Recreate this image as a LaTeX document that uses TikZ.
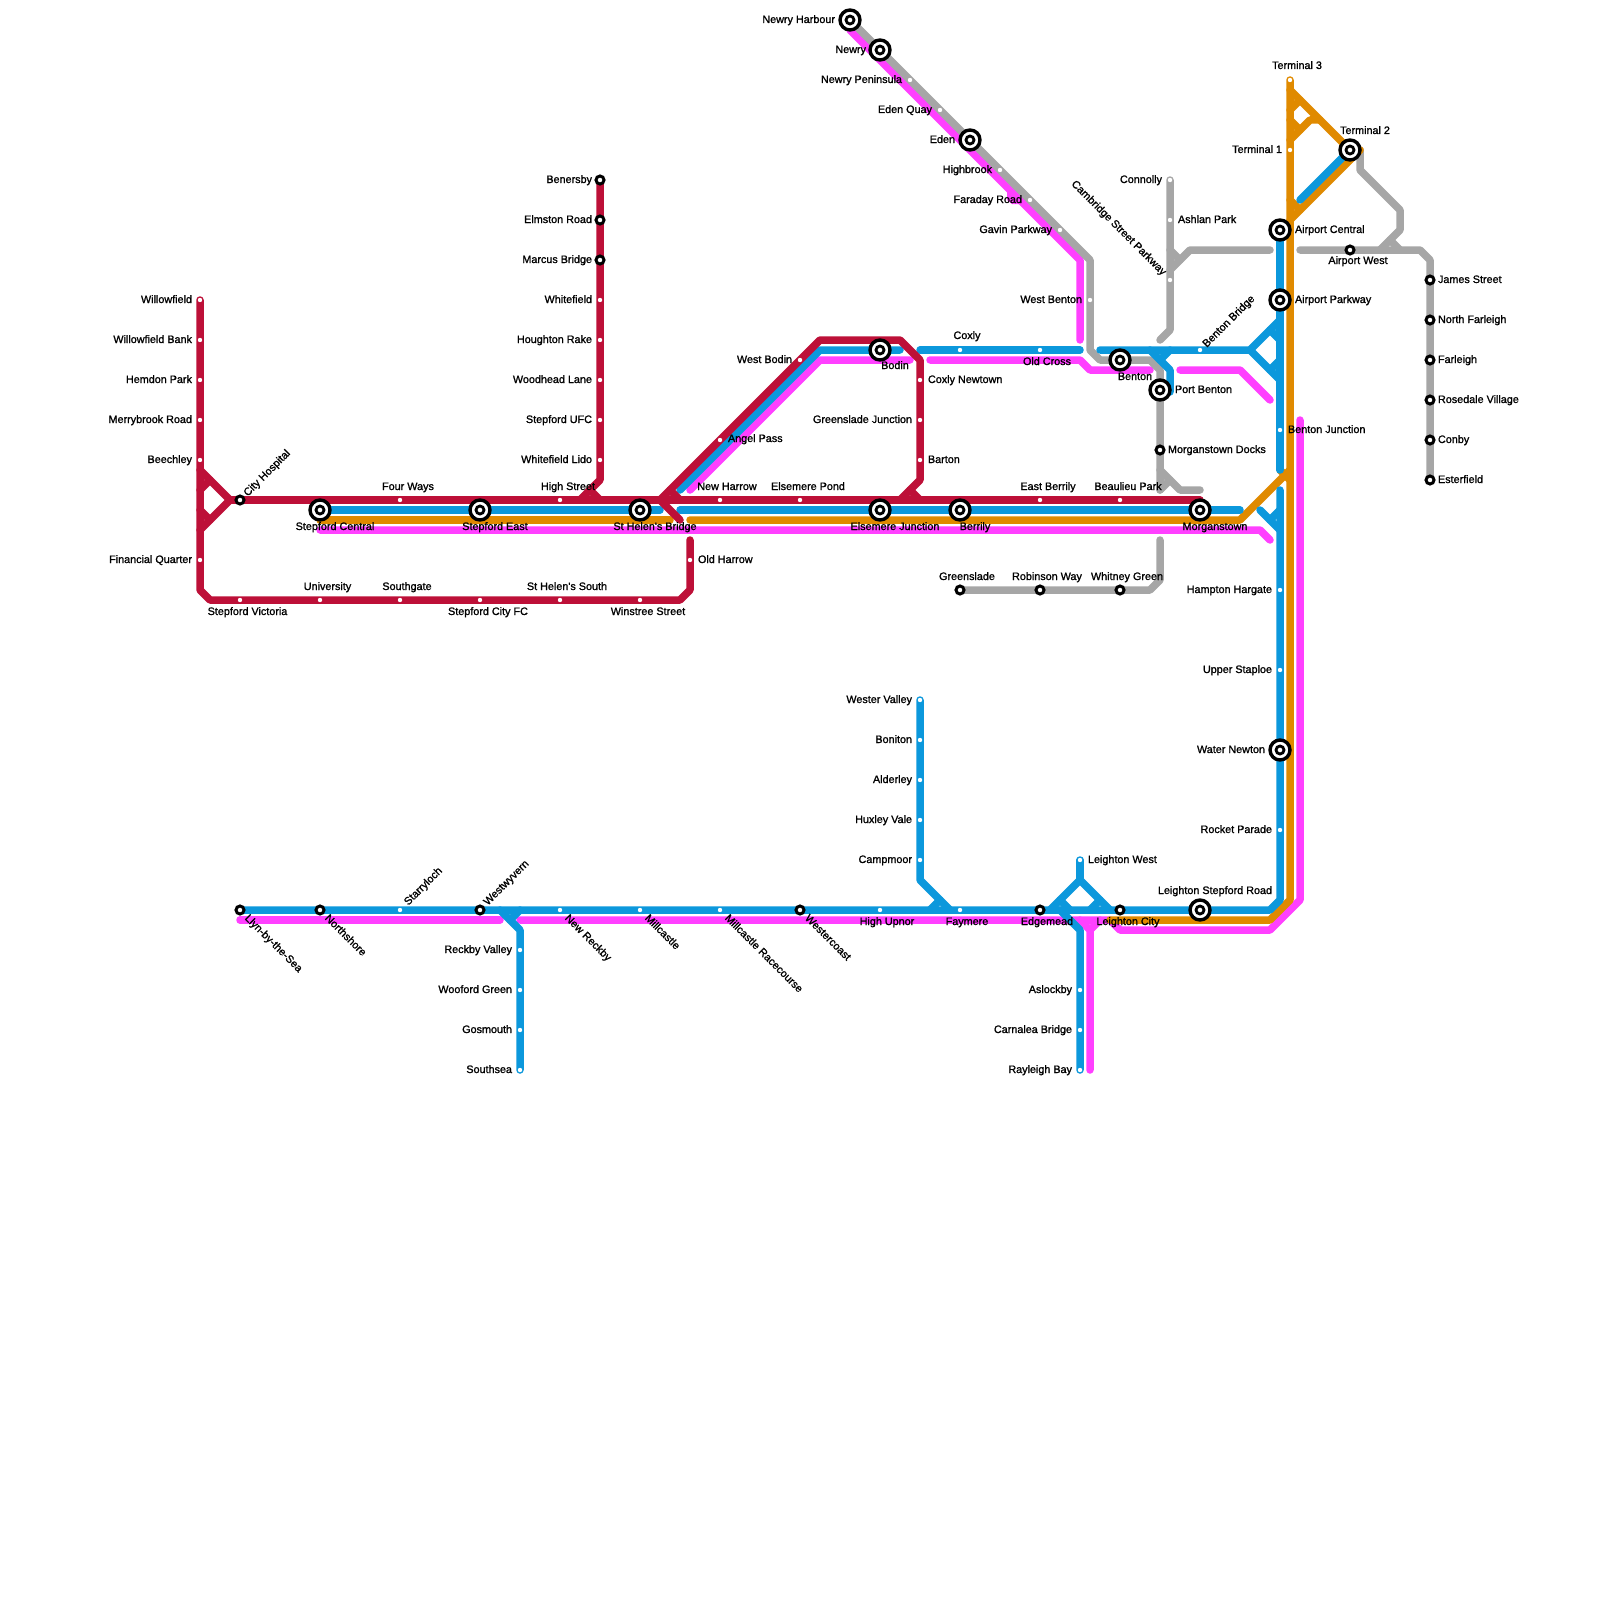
\documentclass[tikz,border=0pt]{standalone}
\usepackage{fontspec}
\newfontfamily\lblfont[RawFeature={embolden=1.2}]{Liberation Sans}
\definecolor{cred}{HTML}{BD1038}
\definecolor{cblue}{HTML}{0C98DC}
\definecolor{corange}{HTML}{E08A00}
\definecolor{cpink}{HTML}{FF40FF}
\definecolor{cgrey}{HTML}{A6A6A6}
\tikzset{
  lred/.style={draw=cred,line width=7.5pt,line cap=round,line join=round},
  lblue/.style={draw=cblue,line width=7.5pt,line cap=round,line join=round},
  lorange/.style={draw=corange,line width=7.5pt,line cap=round,line join=round},
  lpink/.style={draw=cpink,line width=7.5pt,line cap=round,line join=round},
  lgrey/.style={draw=cgrey,line width=7.5pt,line cap=round,line join=round},
  ringst/.style={circle,draw=black,fill=white,line width=2.8pt,minimum size=8pt,inner sep=0pt,outer sep=0pt},
  bigst/.style={circle,draw=black,fill=white,line width=3.4pt,minimum size=20pt,inner sep=0pt,outer sep=0pt,label={[ringst,label distance=0pt]center:{}}},
  smst/.style={circle,draw=black,fill=white,line width=3pt,minimum size=8pt,inner sep=0pt,outer sep=0pt},
  dotst/.style={circle,fill=white,minimum size=4.4pt,inner sep=0pt,outer sep=0pt},
  lab/.style={inner sep=0pt,outer sep=0pt,text height=6pt,text depth=0pt,font=\lblfont\fontsize{10.8}{12}\selectfont,text=black},
}
\newcommand\stn[6]{\node[#1] (#2) at (#3) {}; \node[lab,#5] (#2-t) at (#4) {#6};}
\begin{document}
\begin{tikzpicture}[x=1pt,y=-1pt]
\useasboundingbox (0,0) rectangle (1600,1600);
% ---------- way points
\coordinate (rA) at (200,300); \coordinate (rB) at (200,590); \coordinate (rC) at (210,600); \coordinate (rD) at (680,600); \coordinate (rE) at (690,590); \coordinate (rF) at (690,540);
\coordinate (rG) at (200,470); \coordinate (rH) at (230,500); \coordinate (rI) at (200,530); \coordinate (rJ) at (200,490); \coordinate (rK) at (210,480); \coordinate (rL) at (200,510); \coordinate (rM) at (210,520);
\coordinate (rN) at (1200,500);
\coordinate (rO) at (600,180); \coordinate (rP) at (600,480); \coordinate (rQ) at (580,500); \coordinate (rR) at (590,490); \coordinate (rS) at (600,500);
\coordinate (rT) at (680,520); \coordinate (rU) at (660,500); \coordinate (rV) at (820,340); \coordinate (rW) at (900,340); \coordinate (rX) at (920,360); \coordinate (rY) at (920,480); \coordinate (rZ) at (900,500);
\coordinate (ra) at (670,490); \coordinate (rb) at (680,500); \coordinate (rc) at (910,490); \coordinate (rd) at (920,500);
% blue
\coordinate (bA) at (320,510); \coordinate (bB) at (660,510); \coordinate (bC) at (680,510); \coordinate (bD) at (1240,510);
\coordinate (bE) at (680,490); \coordinate (bF) at (820,350); \coordinate (bG) at (900,350); \coordinate (bH) at (920,350); \coordinate (bI) at (1080,350);
\coordinate (bJ) at (1100,350); \coordinate (bK) at (1250,350); \coordinate (bL) at (1280,320); \coordinate (bM) at (1280,380);
\coordinate (bN) at (1150,350); \coordinate (bO) at (1170,370); \coordinate (bP) at (1170,392); \coordinate (bQ) at (1160,360); \coordinate (bR) at (1170,350);
\coordinate (bS) at (1280,230); \coordinate (bT) at (1280,470); \coordinate (bU) at (1280,490); \coordinate (bV) at (1280,900); \coordinate (bW) at (1270,910); \coordinate (bX) at (240,910);
\coordinate (bY) at (1260,510); \coordinate (bZ) at (1280,530); \coordinate (ba) at (1270,520); \coordinate (bb) at (1280,510);
\coordinate (bc) at (1300,200); \coordinate (bd) at (1350,150);
\coordinate (be) at (920,700); \coordinate (bf) at (920,880); \coordinate (bg) at (950,910); \coordinate (bh) at (930,910); \coordinate (bi) at (940,900);
\coordinate (bj) at (500,910); \coordinate (bk) at (520,930); \coordinate (bl) at (520,1070); \coordinate (bm) at (510,920); \coordinate (bn) at (520,910);
\coordinate (bo) at (1050,910); \coordinate (bp) at (1080,880); \coordinate (bq) at (1110,910); \coordinate (br) at (1080,860);
\coordinate (bs) at (1060,910); \coordinate (bt) at (1080,930); \coordinate (bu) at (1080,1070); \coordinate (bv) at (1060,900); \coordinate (bw) at (1070,910); \coordinate (bx) at (1090,910); \coordinate (by) at (1100,900);
\coordinate (dA) at (1270,330); \coordinate (dB) at (1280,340); \coordinate (dC) at (1270,370); \coordinate (dD) at (1280,360);
% orange
\coordinate (oA) at (320,520); \coordinate (oB) at (670,520); \coordinate (oC) at (690,520); \coordinate (oD) at (1240,520); \coordinate (oE) at (1290,470);
\coordinate (oF) at (1280,470); \coordinate (oG) at (1290,480);
\coordinate (oH) at (1290,80); \coordinate (oI) at (1290,900); \coordinate (oJ) at (1270,920); \coordinate (oK) at (1110,920);
\coordinate (oL) at (1290,90); \coordinate (oM) at (1350,150); \coordinate (oN) at (1360,150); \coordinate (oO) at (1290,220);
\coordinate (oP) at (1290,140); \coordinate (oQ) at (1310,120); \coordinate (oR) at (1320,120); \coordinate (oS) at (1290,110); \coordinate (oT) at (1300,100); \coordinate (oU) at (1290,120); \coordinate (oV) at (1300,130); \coordinate (oW) at (1290,200); \coordinate (oX) at (1300,210);
% pink
\coordinate (pA) at (320,530); \coordinate (pB) at (1260,530); \coordinate (pC) at (1270,540);
\coordinate (pD) at (690,490); \coordinate (pE) at (820,360); \coordinate (pF) at (910,360);
\coordinate (pG) at (930,360); \coordinate (pH) at (1080,360); \coordinate (pI) at (1090,370); \coordinate (pJ) at (1150,370);
\coordinate (pK) at (1180,370); \coordinate (pL) at (1240,370); \coordinate (pM) at (1270,400);
\coordinate (pN) at (850,30); \coordinate (pO) at (1080,260); \coordinate (pP) at (1080,340);
\coordinate (pQ) at (240,920); \coordinate (pR) at (500,920); \coordinate (pS) at (520,920); \coordinate (pT) at (1110,920); \coordinate (pU) at (1120,930); \coordinate (pV) at (1270,930); \coordinate (pW) at (1300,900); \coordinate (pX) at (1300,420);
\coordinate (pY) at (1090,1070); \coordinate (pZ) at (1090,930); \coordinate (pa) at (1080,920); \coordinate (pb) at (1100,920);
% grey
\coordinate (gA) at (850,20); \coordinate (gB) at (1090,260); \coordinate (gC) at (1090,350); \coordinate (gD) at (1100,360); \coordinate (gE) at (1150,360); \coordinate (gF) at (1160,370); \coordinate (gG) at (1160,490); \coordinate (gH) at (1160,470); \coordinate (gI) at (1180,490); \coordinate (gJ) at (1200,490); \coordinate (gK) at (1170,480);
\coordinate (gL) at (1170,180); \coordinate (gM) at (1170,330); \coordinate (gN) at (1160,340); \coordinate (gO) at (1170,270); \coordinate (gP) at (1190,250); \coordinate (gQ) at (1270,250); \coordinate (gR) at (1170,250); \coordinate (gS) at (1180,260);
\coordinate (gT) at (1300,250); \coordinate (gU) at (1420,250); \coordinate (gV) at (1430,260); \coordinate (gW) at (1430,480);
\coordinate (ga) at (1360,150); \coordinate (gb) at (1360,170); \coordinate (gc) at (1400,210); \coordinate (gd) at (1400,230); \coordinate (ge) at (1380,250); \coordinate (gf) at (1390,240); \coordinate (gg) at (1400,250);
\coordinate (gh) at (960,590); \coordinate (gi) at (1150,590); \coordinate (gj) at (1160,580); \coordinate (gk) at (1160,540);
% ---------- lines
\draw[lpink] (pA) -- (pB) -- (pC);
\draw[lpink] (pD) -- (pE) -- (pF);
\draw[lpink] (pG) -- (pH) -- (pI) -- (pJ);
\draw[lpink] (pK) -- (pL) -- (pM);
\draw[lpink] (pN) -- (pO) -- (pP);
\fill[cpink] (1007,190) -- (1007,200) -- (1012,204) -- (1020,204) -- (1020,200) -- cycle;
\draw[lpink] (pQ) -- (pR);
\draw[lpink] (pS) -- (pT) -- (pU) -- (pV) -- (pW) -- (pX);
\draw[lpink] (pY) -- (pZ) -- (pa);
\draw[lpink] (pZ) -- (pb);
\draw[lgrey] (gA) -- (gB) -- (gC) -- (gD) -- (gE) -- (gF) -- (gG);
\draw[lgrey] (gH) -- (gI) -- (gJ);
\draw[lgrey] (gG) -- (gK);
\draw[lgrey] (gL) -- (gM) -- (gN);
\draw[lgrey] (gO) -- (gP) -- (gQ);
\draw[lgrey] (gR) -- (gS);
\draw[lgrey] (gT) -- (gU) -- (gV) -- (gW);
\draw[lgrey] (ga) -- (gb) -- (gc) -- (gd) -- (ge);
\draw[lgrey] (gf) -- (gg);
\draw[lgrey] (gh) -- (gi) -- (gj) -- (gk);
\draw[lorange] (oA) -- (oB);
\draw[lorange] (oC) -- (oD) -- (oE);
\draw[lorange] (oF) -- (oG);
\draw[lorange] (oH) -- (oI) -- (oJ) -- (oK);
\draw[lorange] (oL) -- (oM) -- (oN) -- (oO);
\draw[lorange] (oP) -- (oQ) -- (oR);
\draw[lorange] (oS) -- (oT);
\draw[lorange] (oU) -- (oV);
\draw[lorange] (oW) -- (oX);
\draw[lblue] (bA) -- (bB);
\draw[lblue] (bC) -- (bD);
\draw[lblue] (bE) -- (bF) -- (bG);
\draw[lblue] (bH) -- (bI);
\draw[lblue] (bJ) -- (bK) -- (bL);
\draw[lblue] (bK) -- (bM);
\draw[lblue] (dA) -- (dB);
\draw[lblue] (dC) -- (dD);
\draw[lblue] (bN) -- (bO) -- (bP);
\draw[lblue] (bQ) -- (bR);
\draw[lblue] (bS) -- (bT);
\draw[lblue] (bU) -- (bV) -- (bW) -- (bX);
\draw[lblue] (bY) -- (bZ);
\draw[lblue] (ba) -- (bb);
\draw[lblue] (bc) -- (bd);
\draw[lblue] (be) -- (bf) -- (bg);
\draw[lblue] (bh) -- (bi);
\draw[lblue] (bj) -- (bk) -- (bl);
\draw[lblue] (bm) -- (bn);
\draw[lblue] (bo) -- (bp) -- (bq);
\draw[lblue] (bp) -- (br);
\draw[lblue] (bs) -- (bt) -- (bu);
\draw[lblue] (bv) -- (bw);
\draw[lblue] (bx) -- (by);
\draw[lred] (rA) -- (rB) -- (rC) -- (rD) -- (rE) -- (rF);
\draw[lred] (rG) -- (rH) -- (rI);
\draw[lred] (rJ) -- (rK);
\draw[lred] (rL) -- (rM);
\draw[lred] (rH) -- (rN);
\draw[lred] (rO) -- (rP) -- (rQ);
\draw[lred] (rR) -- (rS);
\draw[lred] (rT) -- (rU) -- (rV) -- (rW) -- (rX) -- (rY) -- (rZ);
\draw[lred] (ra) -- (rb);
\draw[lred] (rc) -- (rd);
% ---------- stations and labels
\stn{dotst}{willowfield}{200,300}{192,300}{anchor=east}{Willowfield}
\stn{dotst}{willowbank}{200,340}{192,340}{anchor=east}{Willowfield Bank}
\stn{dotst}{hemdon}{200,380}{192,380}{anchor=east}{Hemdon Park}
\stn{dotst}{merrybrook}{200,420}{192,420}{anchor=east}{Merrybrook Road}
\stn{dotst}{beechley}{200,460}{192,460}{anchor=east}{Beechley}
\stn{dotst}{financial}{200,560}{192,560}{anchor=east}{Financial Quarter}
\stn{smst}{cityhosp}{240,500}{245.7,494.7}{anchor=west,rotate=45}{City Hospital}
\stn{bigst}{stepcentral}{320,510}{335,527}{}{Stepford Central}
\stn{dotst}{fourways}{400,500}{408,487}{}{Four Ways}
\stn{bigst}{stepeast}{480,510}{495,527}{}{Stepford East}
\stn{dotst}{highst}{560,500}{568,487}{}{High Street}
\stn{bigst}{sthelens}{640,510}{655,527}{}{St Helen's Bridge}
\stn{dotst}{newharrow}{720,500}{727,487}{}{New Harrow}
\stn{dotst}{elspond}{800,500}{808,487}{}{Elsemere Pond}
\stn{bigst}{elsjunc}{880,510}{895,527}{}{Elsemere Junction}
\stn{bigst}{berrily}{960,510}{975,527}{}{Berrily}
\stn{dotst}{eastberrily}{1040,500}{1048,487}{}{East Berrily}
\stn{dotst}{beaulieu}{1120,500}{1128,487}{}{Beaulieu Park}
\stn{bigst}{morganstown}{1200,510}{1215,527}{}{Morganstown}
\stn{smst}{benersby}{600,180}{592,180}{anchor=east}{Benersby}
\stn{smst}{elmston}{600,220}{592,220}{anchor=east}{Elmston Road}
\stn{smst}{marcus}{600,260}{592,260}{anchor=east}{Marcus Bridge}
\stn{dotst}{whitefield}{600,300}{592,300}{anchor=east}{Whitefield}
\stn{dotst}{houghton}{600,340}{592,340}{anchor=east}{Houghton Rake}
\stn{dotst}{woodhead}{600,380}{592,380}{anchor=east}{Woodhead Lane}
\stn{dotst}{stepufc}{600,420}{592,420}{anchor=east}{Stepford UFC}
\stn{dotst}{whitelido}{600,460}{592,460}{anchor=east}{Whitefield Lido}
\stn{dotst}{stepvic}{240,600}{247.5,612}{}{Stepford Victoria}
\stn{dotst}{university}{320,600}{327.5,587}{}{University}
\stn{dotst}{southgate}{400,600}{407,587}{}{Southgate}
\stn{dotst}{stepcity}{480,600}{488,612}{}{Stepford City FC}
\stn{dotst}{sthsouth}{560,600}{567,587}{}{St Helen's South}
\stn{dotst}{winstree}{640,600}{648,612}{}{Winstree Street}
\stn{dotst}{oldharrow}{690,560}{698,560}{anchor=west}{Old Harrow}
\stn{dotst}{angel}{720,440}{728,439}{anchor=west}{Angel Pass}
\stn{dotst}{westbodin}{800,360}{792,360}{anchor=east}{West Bodin}
\stn{bigst}{bodin}{880,350}{895,366}{}{Bodin}
\stn{dotst}{coxly}{960,350}{967,336}{}{Coxly}
\stn{dotst}{oldcross}{1040,350}{1047,362}{}{Old Cross}
\stn{dotst}{coxnew}{920,380}{928,380}{anchor=west}{Coxly Newtown}
\stn{dotst}{greenjunc}{920,420}{912,420}{anchor=east}{Greenslade Junction}
\stn{dotst}{barton}{920,460}{928,460}{anchor=west}{Barton}
\stn{bigst}{newryh}{850,20}{835,20}{anchor=east}{Newry Harbour}
\stn{bigst}{newry}{880,50}{866,50}{anchor=east}{Newry}
\stn{dotst}{newryp}{910,80}{902,80}{anchor=east}{Newry Peninsula}
\stn{dotst}{edenq}{940,110}{932,110}{anchor=east}{Eden Quay}
\stn{bigst}{eden}{970,140}{955,140}{anchor=east}{Eden}
\stn{dotst}{highbrook}{1000,170}{992,170}{anchor=east}{Highbrook}
\stn{dotst}{faraday}{1030,200}{1022,200}{anchor=east}{Faraday Road}
\stn{dotst}{gavin}{1060,230}{1052,230}{anchor=east}{Gavin Parkway}
\stn{dotst}{westbenton}{1090,300}{1082,300}{anchor=east}{West Benton}
\stn{bigst}{benton}{1120,360}{1135,377}{}{Benton}
\stn{bigst}{portbenton}{1160,390}{1175,390}{anchor=west}{Port Benton}
\stn{smst}{mdocks}{1160,450}{1168,450}{anchor=west}{Morganstown Docks}
\stn{dotst}{bentonbr}{1200,350}{1204.7,345.7}{anchor=west,rotate=45}{Benton Bridge}
\stn{dotst}{connolly}{1170,180}{1162,180}{anchor=east}{Connolly}
\stn{dotst}{ashlan}{1170,220}{1178,220}{anchor=west}{Ashlan Park}
\stn{dotst}{cambridge}{1170,280}{1164.3,273.7}{anchor=east,rotate=-45}{Cambridge Street Parkway}
\stn{bigst}{aircentral}{1280,230}{1295,230}{anchor=west}{Airport Central}
\stn{bigst}{airparkway}{1280,300}{1295,300}{anchor=west}{Airport Parkway}
\stn{dotst}{bentonj}{1280,430}{1288,430}{anchor=west}{Benton Junction}
\stn{dotst}{term3}{1290,80}{1297,66}{}{Terminal 3}
\stn{dotst}{term1}{1290,150}{1282,150}{anchor=east}{Terminal 1}
\stn{bigst}{term2}{1350,150}{1365,131}{}{Terminal 2}
\stn{smst}{airwest}{1350,250}{1358,261}{}{Airport West}
\stn{smst}{james}{1430,280}{1438,280}{anchor=west}{James Street}
\stn{smst}{northfar}{1430,320}{1438,320}{anchor=west}{North Farleigh}
\stn{smst}{farleigh}{1430,360}{1438,360}{anchor=west}{Farleigh}
\stn{smst}{rosedale}{1430,400}{1438,400}{anchor=west}{Rosedale Village}
\stn{smst}{conby}{1430,440}{1438,440}{anchor=west}{Conby}
\stn{smst}{esterfield}{1430,480}{1438,480}{anchor=west}{Esterfield}
\stn{smst}{greenslade}{960,590}{967,577}{}{Greenslade}
\stn{smst}{robinson}{1040,590}{1047,577}{}{Robinson Way}
\stn{smst}{whitney}{1120,590}{1127,577}{}{Whitney Green}
\stn{dotst}{hampton}{1280,590}{1272,590}{anchor=east}{Hampton Hargate}
\stn{dotst}{upper}{1280,670}{1272,670}{anchor=east}{Upper Staploe}
\stn{bigst}{waternewton}{1280,750}{1265,750}{anchor=east}{Water Newton}
\stn{dotst}{rocket}{1280,830}{1272,830}{anchor=east}{Rocket Parade}
\stn{dotst}{wester}{920,700}{912,700}{anchor=east}{Wester Valley}
\stn{dotst}{boniton}{920,740}{912,740}{anchor=east}{Boniton}
\stn{dotst}{alderley}{920,780}{912,780}{anchor=east}{Alderley}
\stn{dotst}{huxley}{920,820}{912,820}{anchor=east}{Huxley Vale}
\stn{dotst}{campmoor}{920,860}{912,860}{anchor=east}{Campmoor}
\stn{smst}{llyn}{240,910}{246.5,916.7}{anchor=west,rotate=-45}{Llyn-by-the-Sea}
\stn{smst}{northshore}{320,910}{326.5,916.7}{anchor=west,rotate=-45}{Northshore}
\stn{dotst}{starryloch}{400,910}{406.2,903.7}{anchor=west,rotate=45}{Starryloch}
\stn{smst}{westwyvern}{480,910}{485.7,903.7}{anchor=west,rotate=45}{Westwyvern}
\stn{dotst}{newreckby}{560,910}{566.5,916.7}{anchor=west,rotate=-45}{New Reckby}
\stn{dotst}{millcastle}{640,910}{646.5,916.7}{anchor=west,rotate=-45}{Millcastle}
\stn{dotst}{millrace}{720,910}{726.5,916.7}{anchor=west,rotate=-45}{Millcastle Racecourse}
\stn{smst}{westercoast}{800,910}{806.5,916.7}{anchor=west,rotate=-45}{Westercoast}
\stn{dotst}{highupnor}{880,910}{887,922}{}{High Upnor}
\stn{dotst}{faymere}{960,910}{967,922}{}{Faymere}
\stn{smst}{edgemead}{1040,910}{1047,922}{}{Edgemead}
\stn{smst}{leightonc}{1120,910}{1128,922}{}{Leighton City}
\stn{bigst}{leightons}{1200,910}{1215,891}{}{Leighton Stepford Road}
\stn{dotst}{leightonw}{1080,860}{1088,860}{anchor=west}{Leighton West}
\stn{dotst}{reckby}{520,950}{512,950}{anchor=east}{Reckby Valley}
\stn{dotst}{wooford}{520,990}{512,990}{anchor=east}{Wooford Green}
\stn{dotst}{gosmouth}{520,1030}{512,1030}{anchor=east}{Gosmouth}
\stn{dotst}{southsea}{520,1070}{512,1070}{anchor=east}{Southsea}
\stn{dotst}{aslockby}{1080,990}{1072,990}{anchor=east}{Aslockby}
\stn{dotst}{carnalea}{1080,1030}{1072,1030}{anchor=east}{Carnalea Bridge}
\stn{dotst}{rayleigh}{1080,1070}{1072,1070}{anchor=east}{Rayleigh Bay}
\end{tikzpicture}
\end{document}
